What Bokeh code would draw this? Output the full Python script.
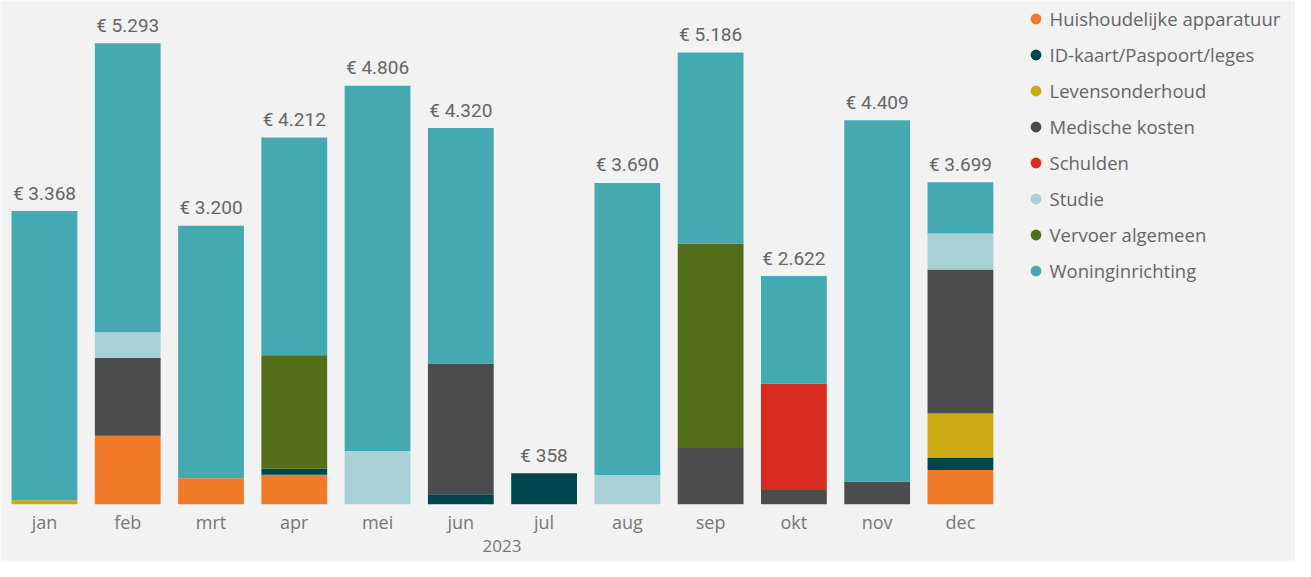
from bokeh.plotting import figure
from bokeh.models import ColumnDataSource, Range1d, FixedTicker, Legend, LegendItem, Title
from bokeh.core.properties import value
from bokeh.embed import file_html
from bokeh.resources import INLINE

months = ["jan", "feb", "mrt", "apr", "mei", "jun", "jul", "aug", "sep", "okt", "nov", "dec"]
categories = ["Huishoudelijke apparatuur", "ID-kaart/Paspoort/leges", "Levensonderhoud",
              "Medische kosten", "Schulden", "Studie", "Vervoer algemeen", "Woninginrichting"]
colors = ["#F07A28", "#00464F", "#CBAA14", "#4B4C4E", "#D82C20", "#A7D1D6", "#536E19", "#45A9B1"]

huishoudelijke = [0, 788, 301, 342, 0, 0, 0, 0, 0, 0, 0, 397]
id_kaart = [0, 0, 0, 67, 0, 118, 358, 0, 0, 0, 0, 142]
levensonderhoud = [48, 0, 0, 0, 0, 0, 0, 0, 0, 0, 0, 506]
medische = [0, 893, 0, 0, 0, 1501, 0, 0, 647, 167, 263, 1653]
schulden = [0, 0, 0, 0, 0, 0, 0, 0, 0, 1221, 0, 0]
studie = [0, 295, 0, 0, 614, 0, 0, 338, 0, 0, 0, 413]
vervoer = [0, 0, 0, 1303, 0, 0, 0, 0, 2348, 0, 0, 0]
woning = [3320, 3317, 2899, 2500, 4192, 2701, 0, 3352, 2191, 1234, 4146, 588]
year_label = "2023"

series = [huishoudelijke, id_kaart, levensonderhoud, medische, schulden, studie, vervoer, woning]
xs = list(range(len(months)))
totals = [sum(s[i] for s in series) for i in xs]
labels = ["€ " + f"{t:,}".replace(",", ".") for t in totals]

data = {"x": xs, "total": totals, "label": labels}
for name, vals in zip(categories, series):
    data[name] = vals
source = ColumnDataSource(data)

BG = "#F2F2F2"
W, H = 1295, 561
PX_PER_BAND = 83.27
X0 = -0.528
p = figure(width=W, height=H, output_backend="svg", toolbar_location=None,
           x_range=Range1d(X0, X0 + W / PX_PER_BAND), y_range=Range1d(0, 5784),
           min_border_left=0, min_border_right=0, min_border_top=0, min_border_bottom=57,
           background_fill_color=BG, border_fill_color=BG, outline_line_color=None)

p.vbar_stack(categories, x="x", width=0.79, source=source, color=colors, line_color=None)

p.text(x="x", y="total", text="label", source=source, text_align="center",
       text_baseline="alphabetic", y_offset=-18, text_font=value("Roboto"),
       text_font_size="19px", text_color="#666666")

p.yaxis.visible = False
p.xgrid.visible = False
p.ygrid.visible = False
ax = p.xaxis[0]
ax.ticker = FixedTicker(ticks=xs)
ax.major_label_overrides = {i: m for i, m in zip(xs, months)}
ax.axis_line_color = None
ax.major_tick_line_color = None
ax.minor_tick_line_color = None
ax.major_tick_out = 0
ax.major_label_standoff = 5
ax.major_label_text_font = "Open Sans"
ax.major_label_text_font_size = "18px"
ax.major_label_text_color = "#777777"

year_title = Title(text=year_label, align="left", offset=482, standoff=3,
                   text_font="Open Sans", text_font_size="17px", text_font_style="normal",
                   text_color="#777777")
p.add_layout(year_title, "below")

items = []
for name, c in zip(categories, colors):
    r = p.scatter(x="x", y="total", source=source, marker="circle", size=0,
                  fill_color=c, line_color=None)
    items.append(LegendItem(label=name, renderers=[r]))

legend = Legend(items=items, location=(1021.5, 220), orientation="vertical",
                glyph_width=27, glyph_height=27, label_height=27, spacing=9,
                label_standoff=1, padding=0, margin=0, border_line_color=None,
                background_fill_alpha=0, label_text_font="Open Sans",
                label_text_font_size="18.5px", label_text_color="#666666")
p.add_layout(legend)

open("out.html", "w").write(file_html(p, INLINE))
